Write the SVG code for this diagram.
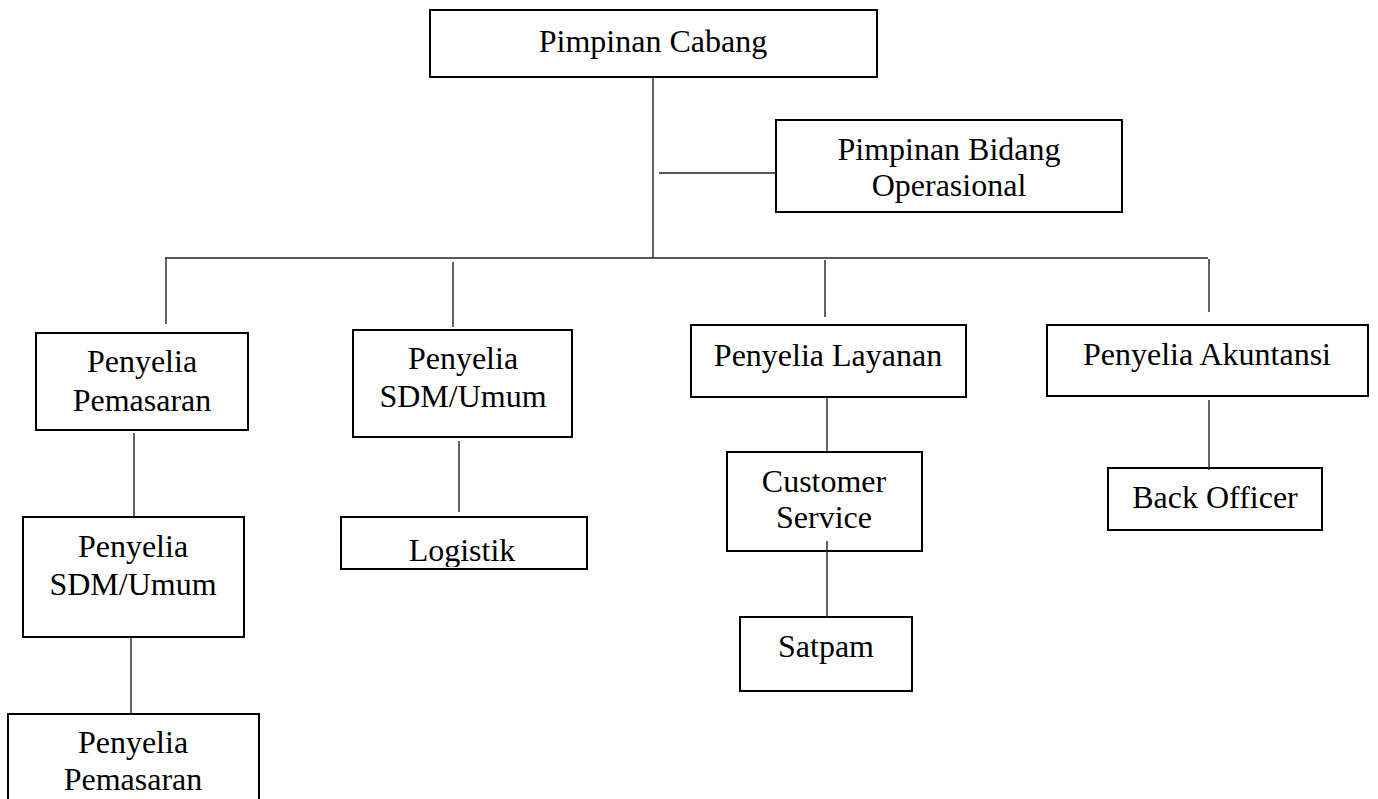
<svg xmlns="http://www.w3.org/2000/svg" width="1378" height="799" viewBox="0 0 1378 799">
<style>
.box{fill:#fff;stroke:#000;stroke-width:2}
.ln{stroke:#222;stroke-width:1.4;fill:none}
text{font-family:"Liberation Serif","Times New Roman",serif;font-size:32px;fill:#000;text-anchor:middle}
</style>
<defs>
<clipPath id="clipLog"><rect x="341" y="517" width="246" height="50"/></clipPath>
</defs>
<rect width="1378" height="799" fill="#fff"/>
<g id="n-pimpinan-cabang">
<rect class="box" x="430" y="10" width="447" height="67"/>
<text x="653" y="52">Pimpinan Cabang</text>
</g>
<g id="n-pimpinan-bidang">
<rect class="box" x="776" y="120" width="346" height="92"/>
<text x="949" y="160">Pimpinan Bidang</text>
<text x="949" y="196">Operasional</text>
</g>
<g id="n-penyelia-pemasaran">
<rect class="box" x="36" y="333" width="212" height="97"/>
<text x="142" y="372">Penyelia</text>
<text x="142" y="411">Pemasaran</text>
</g>
<g id="n-penyelia-sdm">
<rect class="box" x="353" y="330" width="219" height="107"/>
<text x="463" y="369">Penyelia</text>
<text x="463" y="407">SDM/Umum</text>
</g>
<g id="n-penyelia-layanan">
<rect class="box" x="691" y="325" width="275" height="72"/>
<text x="828" y="366">Penyelia Layanan</text>
</g>
<g id="n-penyelia-akuntansi">
<rect class="box" x="1047" y="325" width="321" height="71"/>
<text x="1207" y="365">Penyelia Akuntansi</text>
</g>
<g id="n-penyelia-sdm-2">
<rect class="box" x="23" y="517" width="221" height="120"/>
<text x="133" y="557">Penyelia</text>
<text x="133" y="595">SDM/Umum</text>
</g>
<g id="n-logistik">
<rect class="box" x="341" y="517" width="246" height="52"/>
<text x="462" y="561" clip-path="url(#clipLog)">Logistik</text>
</g>
<g id="n-customer-service">
<rect class="box" x="727" y="452" width="195" height="99"/>
<text x="824" y="492">Customer</text>
<text x="824" y="528">Service</text>
</g>
<g id="n-satpam">
<rect class="box" x="740" y="617" width="172" height="74"/>
<text x="826" y="657">Satpam</text>
</g>
<g id="n-back-officer">
<rect class="box" x="1108" y="468" width="214" height="62"/>
<text x="1215" y="508">Back Officer</text>
</g>
<g id="n-penyelia-pemasaran-2">
<rect class="box" x="8" y="714" width="251" height="110"/>
<text x="133" y="753">Penyelia</text>
<text x="133" y="790">Pemasaran</text>
</g>
<g id="connectors">
<line class="ln" x1="653" y1="78" x2="653" y2="258"/>
<line class="ln" x1="659" y1="173" x2="776" y2="173"/>
<line class="ln" x1="165" y1="258" x2="1208" y2="258"/>
<line class="ln" x1="166" y1="258" x2="166" y2="324"/>
<line class="ln" x1="453" y1="262" x2="453" y2="327"/>
<line class="ln" x1="825" y1="260" x2="825" y2="317"/>
<line class="ln" x1="1209" y1="259" x2="1209" y2="312"/>
<line class="ln" x1="134" y1="433" x2="134" y2="517"/>
<line class="ln" x1="459" y1="441" x2="459" y2="512"/>
<line class="ln" x1="827" y1="397" x2="827" y2="452"/>
<line class="ln" x1="827" y1="541" x2="827" y2="617"/>
<line class="ln" x1="1209" y1="400" x2="1209" y2="470"/>
<line class="ln" x1="131" y1="637" x2="131" y2="714"/>
</g>
</svg>
